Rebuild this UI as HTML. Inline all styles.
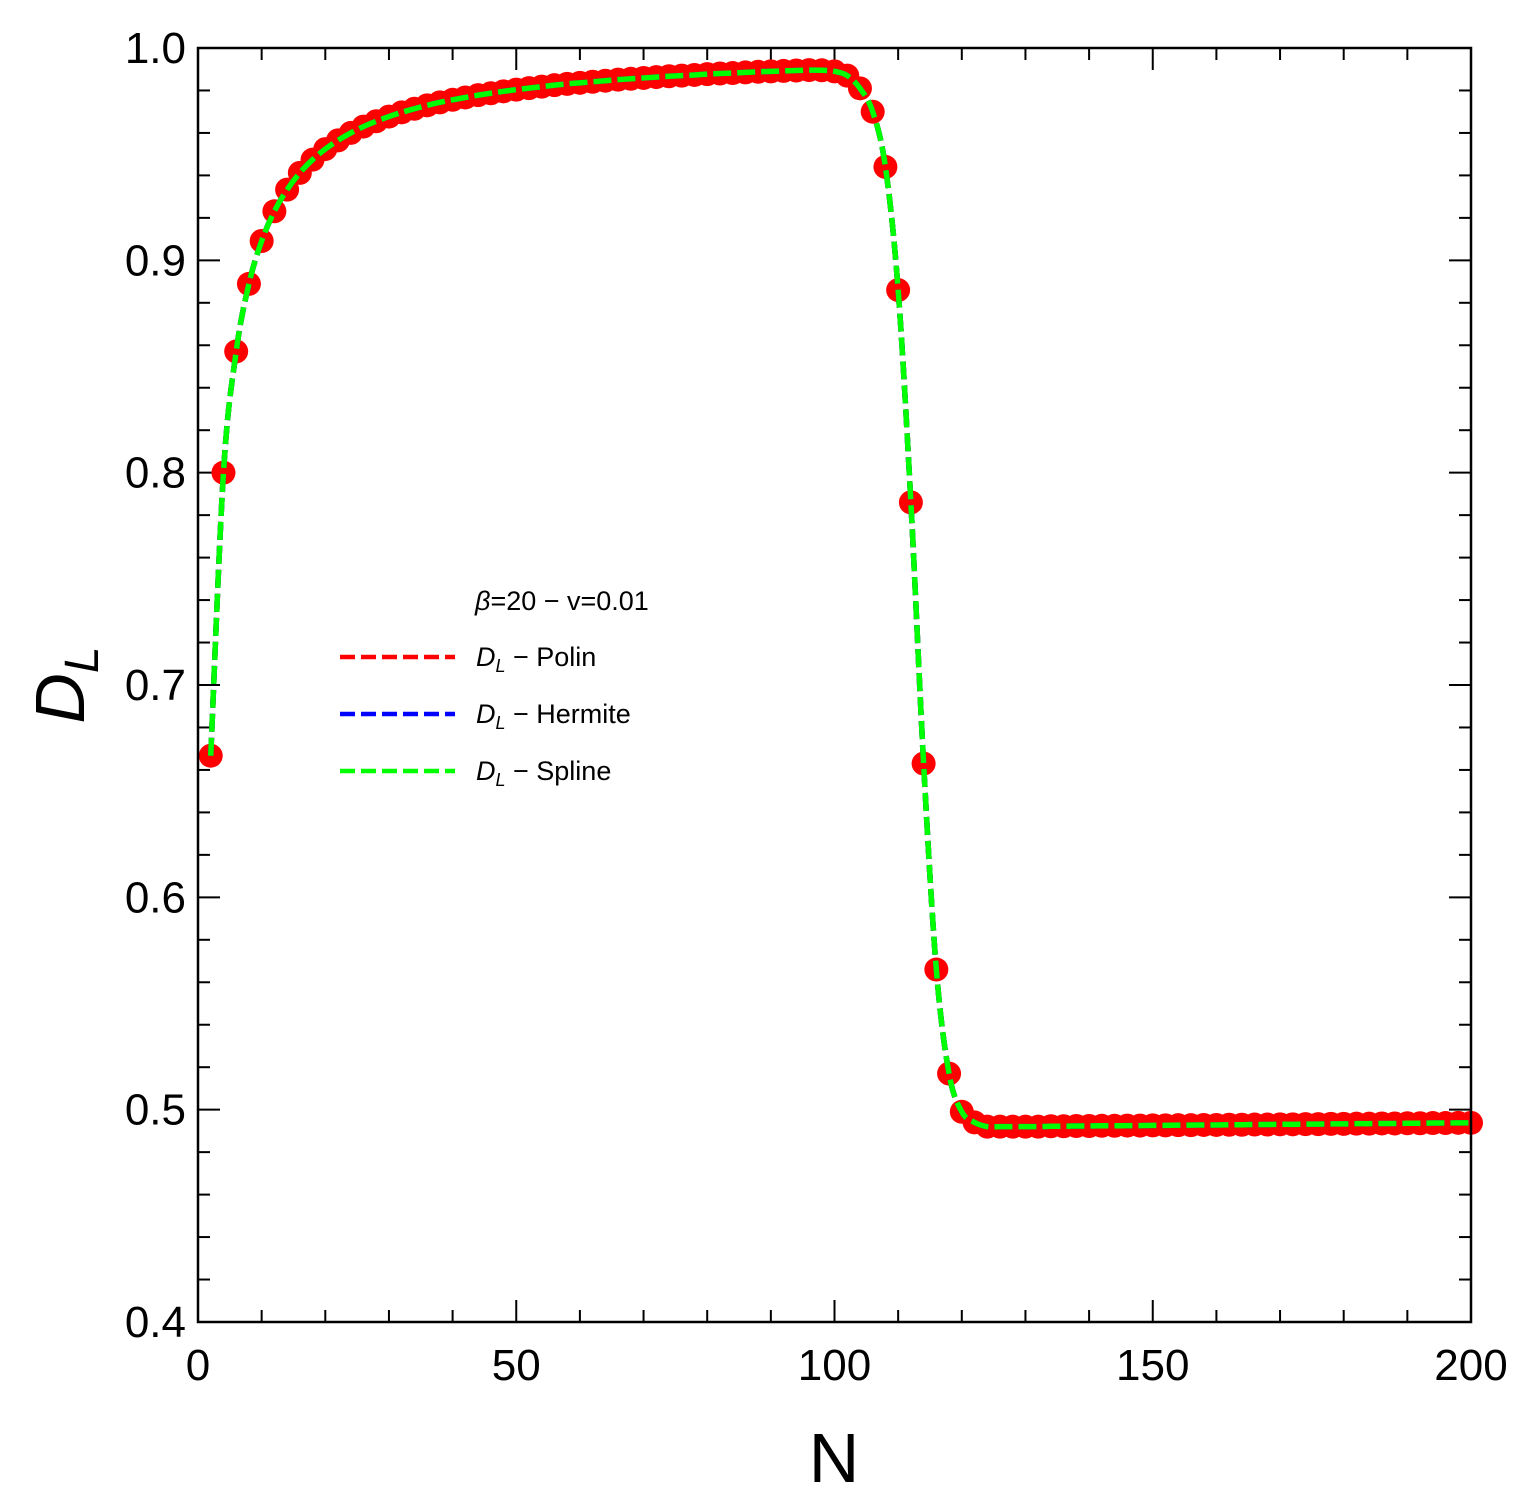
<!DOCTYPE html>
<html><head><meta charset="utf-8"><style>
html,body{margin:0;padding:0;background:#fff;}
svg{display:block;font-family:"Liberation Sans",sans-serif;}
</style></head><body>
<svg id="chart" width="1528" height="1504" viewBox="0 0 1528 1504">
<g id="ticks"></g>
<g id="marks"></g>
<rect x="198" y="48" width="1273" height="1274" fill="none" stroke="#000" stroke-width="2.5"/>
<text x="834" y="1482" font-size="70" text-anchor="middle">N</text>
<text transform="translate(84,685) rotate(-90)" font-size="70" font-style="italic" text-anchor="middle">D<tspan font-size="48" dy="14">L</tspan></text>
<g font-size="27">
<text x="475" y="610"><tspan font-style="italic">β</tspan>=20 − v=0.01</text>
<line x1="340" y1="657" x2="455" y2="657" stroke="#f00" stroke-width="4.5" stroke-dasharray="15,6"/>
<text x="476" y="666"><tspan font-style="italic">D</tspan><tspan font-style="italic" font-size="18" dy="6">L</tspan><tspan dy="-6"> − Polin</tspan></text>
<line x1="340" y1="714" x2="455" y2="714" stroke="#00f" stroke-width="4.5" stroke-dasharray="15,6"/>
<text x="476" y="723"><tspan font-style="italic">D</tspan><tspan font-style="italic" font-size="18" dy="6">L</tspan><tspan dy="-6"> − Hermite</tspan></text>
<line x1="340" y1="771" x2="455" y2="771" stroke="#0f0" stroke-width="4.5" stroke-dasharray="15,6"/>
<text x="476" y="780"><tspan font-style="italic">D</tspan><tspan font-style="italic" font-size="18" dy="6">L</tspan><tspan dy="-6"> − Spline</tspan></text>
</g>
</svg>
<script>
const nValues=[2,4,6,8,10,12,14,16,18,20,22,24,26,28,30,32,34,36,38,40,42,44,46,48,50,52,54,56,58,60,62,64,66,68,70,72,74,76,78,80,82,84,86,88,90,92,94,96,98,100,102,104,106,108,110,112,114,116,118,120,122,124,126,128,130,132,134,136,138,140,142,144,146,148,150,152,154,156,158,160,162,164,166,168,170,172,174,176,178,180,182,184,186,188,190,192,194,196,198,200];
const dlValues=[0.6667,0.8,0.8571,0.8889,0.9091,0.9231,0.9333,0.9412,0.9474,0.9524,0.9565,0.96,0.963,0.9655,0.9677,0.9697,0.9714,0.973,0.9744,0.9756,0.9767,0.9778,0.9787,0.9796,0.9804,0.9811,0.9818,0.9825,0.9831,0.9836,0.9841,0.9846,0.9851,0.9855,0.9859,0.9863,0.9867,0.987,0.9873,0.9877,0.988,0.9882,0.9885,0.9888,0.989,0.9892,0.9894,0.9896,0.9895,0.989,0.987,0.981,0.970,0.944,0.886,0.786,0.663,0.566,0.517,0.499,0.494,0.492,0.492,0.492,0.492,0.492,0.4922,0.4922,0.4923,0.4923,0.4924,0.4924,0.4925,0.4925,0.4926,0.4926,0.4927,0.4927,0.4928,0.4928,0.4929,0.4929,0.493,0.493,0.4931,0.4931,0.4932,0.4932,0.4933,0.4933,0.4934,0.4934,0.4935,0.4935,0.4936,0.4936,0.4937,0.4937,0.4938,0.4938];
const xTickLabels=[0,50,100,150,200];
const yTickLabels=["0.4","0.5","0.6","0.7","0.8","0.9","1.0"];
const NS="http://www.w3.org/2000/svg";
const X0=198,X1=1471,Y0=1322,Y1=48;
function sx(n){return X0+(n-0)/(200-0)*(X1-X0);}
function sy(v){return Y0-(v-0.4)/(1.0-0.4)*(Y0-Y1);}
function mk(t,a){const e=document.createElementNS(NS,t);for(const k in a)e.setAttribute(k,a[k]);return e;}
const tg=document.getElementById('ticks');
for(let n=0;n<=200;n+=10){const L=(n%50===0)?22:12;
 let a=mk('line',{x1:sx(n),x2:sx(n),y1:Y0,y2:Y0-L,stroke:'#000','stroke-width':2});
 
 tg.appendChild(a);
 let b=mk('line',{x1:sx(n),x2:sx(n),y1:Y1,y2:Y1+L,stroke:'#000','stroke-width':2});
 
 tg.appendChild(b);}
xTickLabels.forEach(v=>{const t=mk('text',{x:sx(v),y:1380,'font-size':44,'text-anchor':'middle'});t.textContent=v;
 
 tg.appendChild(t);});
for(let i=0;i<=30;i++){const v=0.4+i*0.02;const L=(i%5===0)?22:12;
 let a=mk('line',{x1:X0,x2:X0+L,y1:sy(v),y2:sy(v),stroke:'#000','stroke-width':2});
 
 tg.appendChild(a);
 let b=mk('line',{x1:X1,x2:X1-L,y1:sy(v),y2:sy(v),stroke:'#000','stroke-width':2});
 
 tg.appendChild(b);}
yTickLabels.forEach(s=>{const t=mk('text',{x:186,y:sy(parseFloat(s))+15,'font-size':44,'text-anchor':'end'});t.textContent=s;
 
 tg.appendChild(t);});
const mg=document.getElementById('marks');
nValues.forEach((n,i)=>{const c=mk('circle',{cx:sx(n),cy:sy(dlValues[i]),r:12,fill:'#f00'});
 
 mg.appendChild(c);});
const P=nValues.map((n,i)=>[sx(n),sy(dlValues[i])]);
let d='M'+P[0][0]+','+P[0][1];
for(let i=0;i<P.length-1;i++){const p0=P[Math.max(0,i-1)],p1=P[i],p2=P[i+1],p3=P[Math.min(P.length-1,i+2)];
 d+=' C'+(p1[0]+(p2[0]-p0[0])/6)+','+(p1[1]+(p2[1]-p0[1])/6)+' '+(p2[0]-(p3[0]-p1[0])/6)+','+(p2[1]-(p3[1]-p1[1])/6)+' '+p2[0]+','+p2[1];}
[['#f00','polin-curve'],['#00f','hermite-curve'],['#0f0','spline-curve']].forEach(([col,name])=>{
 const p=mk('path',{d:d,fill:'none',stroke:col,'stroke-width':5.5,'stroke-dasharray':'18,6'});
 
 mg.appendChild(p);});
</script>
</body></html>
